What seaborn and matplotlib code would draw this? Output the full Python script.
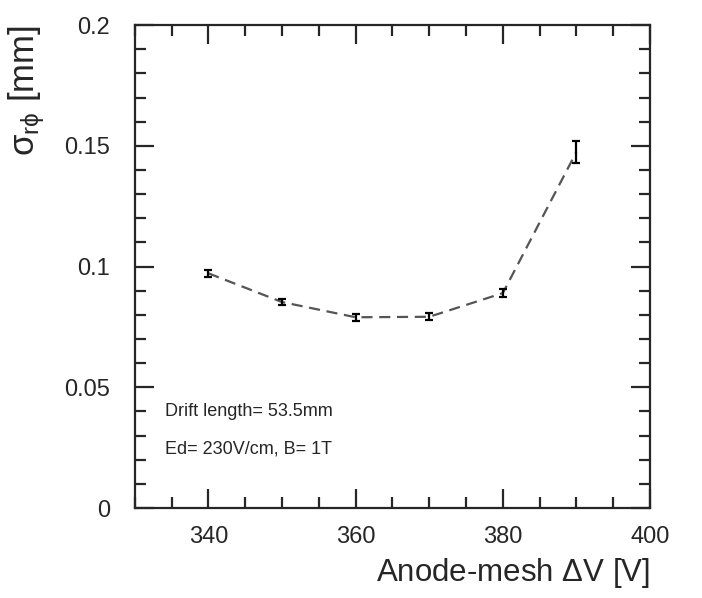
import matplotlib
matplotlib.use("Agg")
import matplotlib.pyplot as plt
import seaborn as sns
import pandas as pd
from matplotlib.ticker import MultipleLocator

voltage = [340, 350, 360, 370, 380, 390]
sigma = [0.0972, 0.0853, 0.0790, 0.0792, 0.0890, 0.1475]
sigma_err = [0.0015, 0.0012, 0.0015, 0.0015, 0.0015, 0.0045]

df = pd.DataFrame({"V": voltage, "s": sigma, "e": sigma_err})

sns.set_theme(style="ticks")
plt.rcParams['font.family'] = ['Liberation Sans', 'DejaVu Sans']
plt.rcParams['mathtext.fontset'] = 'custom'
plt.rcParams['mathtext.rm'] = 'Liberation Sans'
plt.rcParams['mathtext.it'] = 'Liberation Sans:italic'

fig = plt.figure(figsize=(7.02, 5.98), dpi=100)
ax = fig.add_axes([0.192, 0.1505, 0.734, 0.8075])

sns.lineplot(data=df, x="V", y="s", ax=ax, color="#555555", lw=1.6,
             linestyle=(0, (5, 3)), marker=None)
ax.errorbar(df["V"], df["s"], yerr=df["e"], fmt="none", ecolor="black",
            elinewidth=1.6, capsize=3, capthick=1.6)

ax.set_xlim(330, 400)
ax.set_ylim(0, 0.2)
ax.xaxis.set_major_locator(MultipleLocator(20))
ax.xaxis.set_minor_locator(MultipleLocator(5))
ax.yaxis.set_major_locator(MultipleLocator(0.05))
ax.yaxis.set_minor_locator(MultipleLocator(0.01))
ax.set_yticks([0, 0.05, 0.1, 0.15, 0.2])
ax.set_yticklabels(["0", "0.05", "0.1", "0.15", "0.2"])
ax.tick_params(which="both", direction="in", top=True, right=True,
               labelsize=17, width=1.6)
ax.tick_params(axis="x", pad=13)
ax.tick_params(axis="y", pad=18)
ax.tick_params(which="major", length=14)
ax.tick_params(which="minor", length=8)
for sp in ax.spines.values():
    sp.set_linewidth(1.6)

ax.set_xlabel(r"Anode-mesh $\Delta$V [V]", fontsize=22.5, loc="right", labelpad=6)
ax.set_ylabel(r"$\mathrm{\sigma_{r\phi}}$ [mm]", fontsize=25, loc="top", labelpad=12)

ax.text(0.058, 0.19, "Drift length= 53.5mm", transform=ax.transAxes, fontsize=13)
ax.text(0.058, 0.113, "Ed= 230V/cm, B= 1T", transform=ax.transAxes, fontsize=13)

fig.savefig("out.png", dpi=100)
